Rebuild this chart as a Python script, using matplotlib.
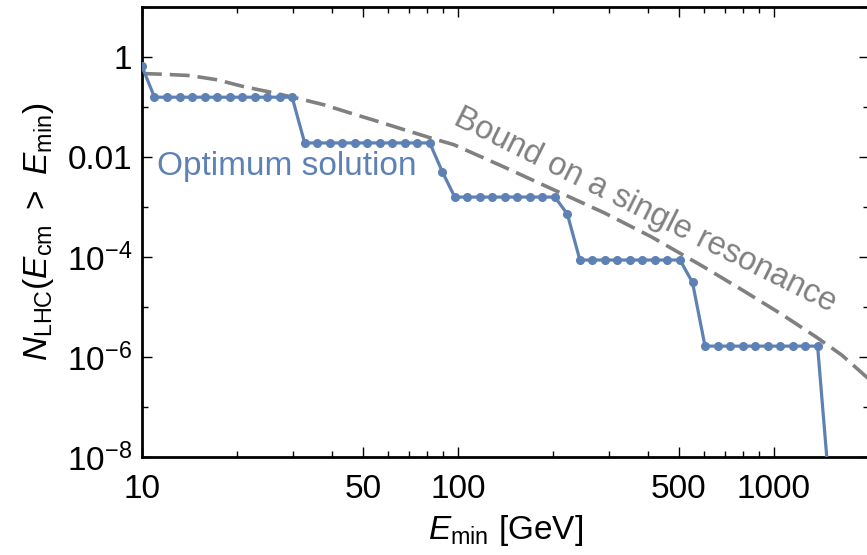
import matplotlib
matplotlib.use("Agg")
import matplotlib.pyplot as plt
from matplotlib.ticker import FixedLocator, NullFormatter

plt.rcParams['font.family'] = ['Liberation Sans', 'DejaVu Sans']
plt.rcParams['mathtext.fontset'] = 'custom'
plt.rcParams['mathtext.rm'] = 'Liberation Sans'
plt.rcParams['mathtext.it'] = 'Liberation Sans:italic'

# ---- optimum solution ----
e_opt = [10.00, 10.95, 12.00, 13.15, 14.40, 15.78, 17.28, 18.93, 20.74, 22.72,
         24.89, 27.27, 29.87, 32.72, 35.85, 39.26, 43.01, 47.12, 51.62, 56.55,
         61.94, 67.86, 74.34, 81.43, 89.21, 97.72, 107.1, 117.3, 128.5, 140.7,
         154.2, 168.9, 185.0, 202.7, 222.0, 243.2, 266.4, 291.9, 319.7, 350.3,
         383.7, 420.3, 460.5, 504.4, 552.6, 605.3, 663.1, 726.4, 795.8, 871.8,
         955.0, 1046, 1146, 1255, 1375, 1507]
n_opt = [0.65] + [0.157] * 12 + [0.0191] * 11 + [5.1e-3] + [1.58e-3] * 9 \
    + [7.2e-4] + [8.7e-5] * 9 + [3.1e-5] + [1.65e-6] * 10 + [1.5e-9]

# ---- bound on a single resonance ----
e_bound = [10.0, 11.66, 14.2, 17.3, 20.9, 25.5, 31.0, 37.6, 45.7, 55.7, 67.4,
           82.1, 97.1, 140, 202, 291, 410, 591, 791, 1060, 1369, 1644, 2000]
n_bound = [0.467, 0.452, 0.425, 0.350, 0.257, 0.198, 0.150, 0.111, 0.0755,
           0.0516, 0.0353, 0.0240, 0.0176, 6.3e-3, 2.18e-3, 7.6e-4, 2.52e-4,
           6.7e-5, 2.22e-5, 7.1e-6, 2.45e-6, 1.08e-6, 3.6e-7]

x_major = [10, 50, 100, 500, 1000]
x_major_labels = ['10', '50', '100', '500', '1000']
x_minor = [20, 30, 40, 60, 70, 80, 90, 200, 300, 400, 600, 700, 800, 900, 2000]
y_major = [1e-8, 1e-6, 1e-4, 1e-2, 1, 10]
y_major_labels = [r'$10^{-8}$', r'$10^{-6}$', r'$10^{-4}$', '0.01', '1', '']
y_minor = [1e-7, 1e-5, 1e-3, 0.1]

blue = '#5e81b5'
grey = '#808080'

fig = plt.figure(figsize=(8.67, 5.55), dpi=100)
ax = fig.add_axes([142 / 867, 98 / 555, 727 / 867, 450 / 555])

ax.plot(e_bound, n_bound, color=grey, lw=2.6, dashes=(5.5, 2.2), zorder=2)
ax.plot(e_opt, n_opt, color=blue, lw=2.3, marker='o', ms=5.5, zorder=3)

ax.set_xscale('log')
ax.set_yscale('log')
ax.set_xlim(10, 2000)
ax.set_ylim(1e-8, 10)

ax.xaxis.set_major_locator(FixedLocator(x_major))
ax.set_xticklabels(x_major_labels)
ax.xaxis.set_minor_locator(FixedLocator(x_minor))
ax.xaxis.set_minor_formatter(NullFormatter())
ax.yaxis.set_major_locator(FixedLocator(y_major))
ax.set_yticklabels(y_major_labels)
ax.yaxis.set_minor_locator(FixedLocator(y_minor))
ax.yaxis.set_minor_formatter(NullFormatter())

ax.tick_params(which='both', direction='in', top=True, right=True,
               labelsize=24, width=1)
ax.tick_params(axis='x', pad=12)
ax.tick_params(axis='y', pad=7)
ax.tick_params(which='major', length=7)
ax.tick_params(which='minor', length=4)
for s in ax.spines.values():
    s.set_linewidth(2.0)

ax.set_xlabel(r'$E_{\mathrm{min}}$ [GeV]', fontsize=24, labelpad=6)
ax.set_ylabel(r'$N_{\mathrm{LHC}}(E_{\mathrm{cm}}\ >\ E_{\mathrm{min}})$',
              fontsize=24, labelpad=8)

ax.text(0.021, 0.627, 'Optimum solution', color=blue, fontsize=24,
        transform=ax.transAxes, ha='left', va='baseline')
ax.text(0.692, 0.549, 'Bound on a single resonance', color=grey, fontsize=23.5,
        transform=ax.transAxes, ha='center', va='center', rotation=-26.5,
        rotation_mode='anchor')

fig.savefig('out.png', dpi=100)
